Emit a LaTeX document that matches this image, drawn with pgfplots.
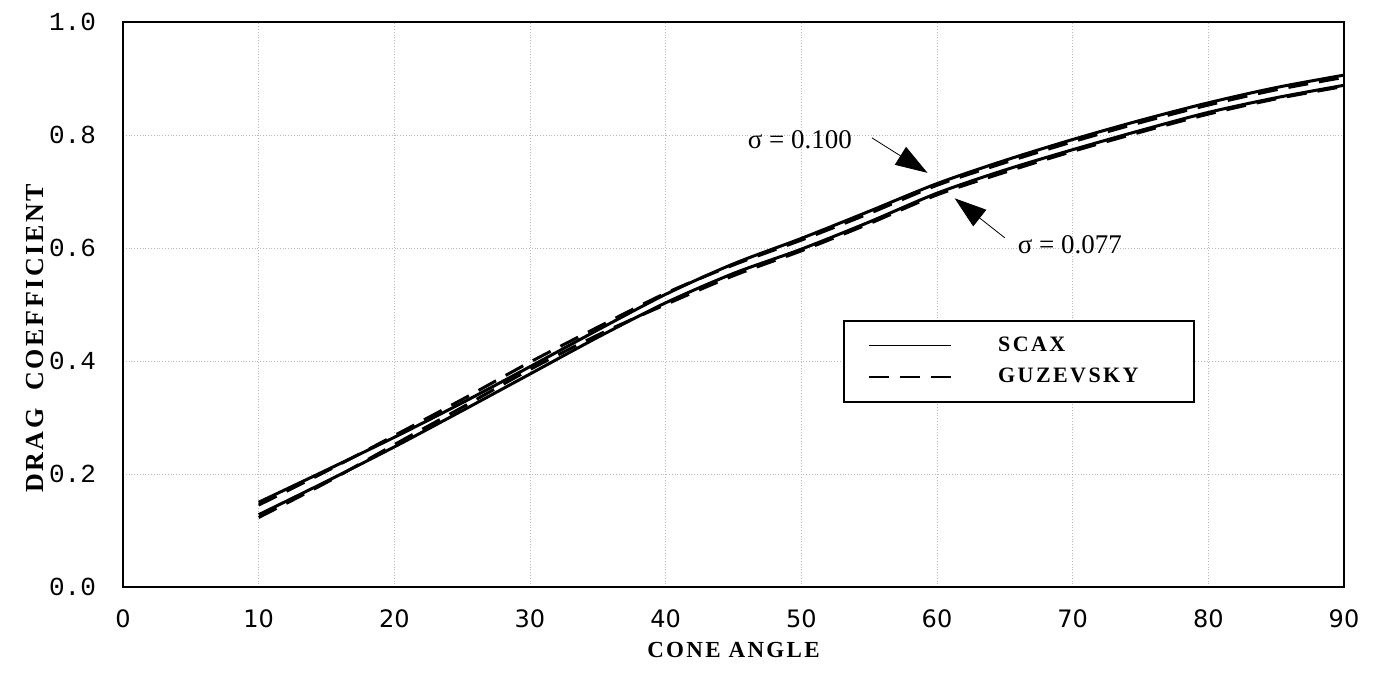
\documentclass[border=0pt]{standalone}
\usepackage{fontspec}
\usepackage{pgfplots}
\pgfplotsset{compat=1.18}
\usetikzlibrary{arrows.meta}
\setmainfont{Liberation Serif}
\newfontfamily\ytickfont{Liberation Mono}
\newfontfamily\xtickfont{DejaVu Sans}
\newfontfamily\labfont[LetterSpace=10]{Liberation Serif}
\newfontfamily\legfont[LetterSpace=11]{Liberation Serif}
\begin{document}
\begin{tikzpicture}
\useasboundingbox (-61.5pt,-45pt) rectangle (626pt,293.5pt);
\begin{axis}[
  scale only axis,
  width=610.5pt, height=282.5pt,
  xmin=0, xmax=90, ymin=0, ymax=1,
  xtick={0,10,...,90},
  ytick={0,0.2,...,1.0},
  /pgf/number format/assume math mode=true,
  yticklabel style={font=\ytickfont\fontsize{13}{15}\selectfont, /pgf/number format/.cd, fixed, fixed zerofill, precision=1},
  xticklabel style={font=\xtickfont\fontsize{12}{14}\selectfont},
  major tick length=0pt,
  tick style={draw=none},
  xticklabel shift=8pt,
  yticklabel shift=10pt,
  axis line style={line width=1.2pt},
  grid=major,
  major grid style={gray!55, densely dotted, line width=0.5pt},
  xlabel={\labfont\bfseries\fontsize{11.5}{14}\selectfont CONE ANGLE},
  ylabel={\labfont\bfseries\fontsize{13}{14}\selectfont DRAG\ \ COEFFICIENT},
  xlabel style={at={(axis description cs:0.5,0)}, anchor=center, yshift=-31.5pt},
  ylabel style={at={(axis description cs:-0.0721,0.44)}, anchor=center},
  legend image code/.code={\draw[#1, line width=0.9pt] (0pt,0pt) -- (41pt,0pt);},
  legend style={at={(axis cs:53.1,0.473)}, anchor=north west, draw=black, line width=1pt,
    inner xsep=12pt, inner ysep=6pt, font=\legfont\bfseries\fontsize{11}{13}\selectfont,
    /tikz/every odd column/.append style={column sep=21pt}, /tikz/row sep=3pt},
  legend cell align=left,
]
\addplot[black, line width=1.5pt, smooth] coordinates {
(10,0.150) (15,0.207) (20,0.265) (25,0.326) (30,0.390) (35,0.455) (40,0.518) (45,0.572) (50,0.617) (55,0.665) (60,0.714) (65,0.755) (70,0.792) (75,0.826) (80,0.857) (85,0.884) (90,0.906)};
\addlegendentry{\makebox[84pt][l]{SCAX}}
\addplot[black, line width=1.5pt, dash pattern=on 10pt off 5.5pt, smooth] coordinates {
(10,0.145) (15,0.205) (20,0.268) (25,0.332) (30,0.398) (35,0.460) (40,0.520) (45,0.570) (50,0.614) (55,0.661) (60,0.711) (65,0.751) (70,0.788) (75,0.822) (80,0.853) (85,0.880) (90,0.902)};
\addlegendentry{\makebox[84pt][l]{GUZEVSKY}}
\addplot[black, line width=1.5pt, smooth, forget plot] coordinates {
(10,0.128) (15,0.187) (20,0.248) (25,0.312) (30,0.377) (35,0.442) (40,0.503) (45,0.555) (50,0.598) (55,0.646) (60,0.697) (65,0.738) (70,0.774) (75,0.808) (80,0.840) (85,0.866) (90,0.888)};
\addplot[black, line width=1.5pt, dash pattern=on 10pt off 5.5pt, smooth, forget plot] coordinates {
(10,0.123) (15,0.185) (20,0.252) (25,0.318) (30,0.385) (35,0.446) (40,0.500) (45,0.551) (50,0.595) (55,0.643) (60,0.694) (65,0.734) (70,0.771) (75,0.805) (80,0.837) (85,0.864) (90,0.886)};
\node[font=\fontsize{13.5}{15}\selectfont] at (axis cs:49.9,0.791) {σ = 0.100};
\node[font=\fontsize{13.5}{15}\selectfont] at (axis cs:69.8,0.605) {σ = 0.077};
\draw[black, line width=0.4pt, -{Triangle[length=16pt, width=10.5pt]}] (axis cs:55.2,0.795) -- (axis cs:59.3,0.733);
\draw[black, line width=0.4pt, -{Triangle[length=16pt, width=10.5pt]}] (axis cs:65.0,0.618) -- (axis cs:61.3,0.688);
\end{axis}
\end{tikzpicture}
\end{document}
